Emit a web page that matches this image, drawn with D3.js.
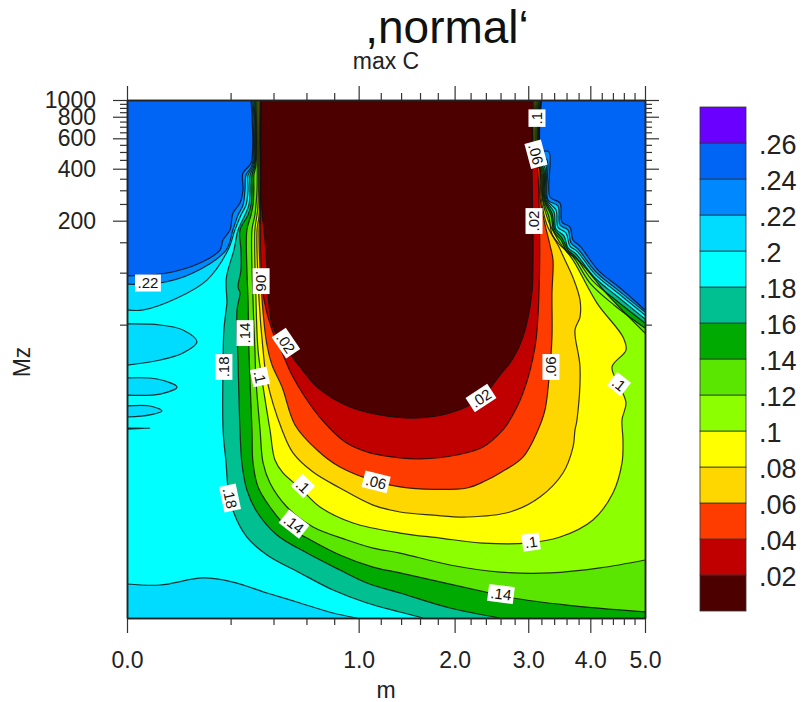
<!DOCTYPE html>
<html>
<head>
<meta charset="utf-8">
<script src="https://cdn.jsdelivr.net/npm/d3@7"></script>
<style>
  html, body { margin: 0; background: #fff; }
  svg { display: block; font-family: "Liberation Sans", Arial, sans-serif; }
</style>
</head>
<body>
<svg id="chart" width="802" height="702"></svg>
<script>
// Contour lines, every point is [m, log10(Mz)]
const c24Left = [[.2865,3],[.2865,2.635],[.2507,2.577],[.2507,2.479],[.2379,2.403],[.2094,2.345],[.1977,2.247],[.1717,2.189],[.1612,2.131],[.0993,2.056],[.0298,1.998],[0,1.981]];
const c24Right = [[5,1.784],[4.529,1.911],[4.134,2.015],[3.824,2.154],[3.707,2.189],[3.657,2.264],[3.526,2.293],[3.494,2.403],[3.334,2.438],[3.318,2.699],[3.2015,2.71],[3.2015,3]];
const c22Left = [[.291,3],[.291,2.623],[.264,2.565],[.2595,2.479],[.251,2.392],[.23,2.334],[.209,2.247],[.183,2.131],[.081,1.998],[.02,1.94],[0,1.934]];
const c22Right = [[5,1.772],[4.492,1.899],[4.099,2.004],[3.79,2.137],[3.673,2.172],[3.624,2.247],[3.494,2.276],[3.461,2.386],[3.303,2.421],[3.287,2.652],[3.194,2.681],[3.194,3]];
const c20Left = [[.296,3],[.296,2.623],[.273,2.565],[.273,2.479],[.264,2.392],[.242,2.334],[.217,2.247],[.19,2.131],[.119,1.957],[.047,1.853],[.005,1.784],[0,1.784]];
const c20Right = [[5,1.755],[4.492,1.882],[4.081,1.992],[3.773,2.125],[3.657,2.154],[3.591,2.23],[3.461,2.264],[3.429,2.363],[3.287,2.421],[3.271,2.623],[3.186,2.664],[3.186,3]];
const c18Left = [[.3005,3],[.3005,2.623],[.282,2.565],[.282,2.479],[.277,2.392],[.2595,2.334],[.23,2.247],[.213,2.131],[.19,2.015],[.183,1.957],[.186,1.824],[.183,1.784],[.175,1.668],[.172,1.477],[.172,1.089],[.183,.898],[.19,.759],[.213,.608],[.268,.469],[.365,.365],[.558,.261],[.791,.162],[1.073,.087],[1.389,.035],[1.633,0]];
const c18Right = [[5,1.732],[4.492,1.859],[4.064,1.975],[3.757,2.108],[3.624,2.143],[3.559,2.212],[3.429,2.253],[3.398,2.351],[3.271,2.421],[3.256,2.606],[3.178,2.652],[3.178,3]];
const c16Left = [[.305,3],[.305,2.623],[.291,2.565],[.291,2.479],[.2865,2.392],[.273,2.334],[.238,2.247],[.242,2.131],[.242,2.015],[.23,1.917],[.238,1.882],[.2255,1.784],[.23,1.477],[.238,1.089],[.246,.898],[.268,.741],[.315,.614],[.419,.481],[.604,.376],[.845,.278],[1.073,.203],[1.389,.145],[1.944,.058],[2.5925,0]];
const c16Right = [[5,1.708],[4.474,1.836],[4.029,1.957],[3.74,2.096],[3.624,2.131],[3.526,2.201],[3.413,2.247],[3.366,2.345],[3.256,2.421],[3.24,2.594],[3.163,2.652],[3.163,3]];
const c14Left = [[.31,3],[.31,2.623],[.3,2.565],[.3,2.479],[.296,2.392],[.2865,2.334],[.268,2.247],[.268,2.015],[.273,1.842],[.277,1.552],[.282,1.378],[.291,1.089],[.296,.898],[.32,.759],[.381,.643],[.477,.527],[.604,.463],[.845,.365],[1.128,.295],[1.389,.261],[2.455,.145],[2.776,.116],[3.6075,.075],[5,.035]];
const c14Right = [[5,1.679],[4.419,1.813],[3.9945,1.94],[3.723,2.085],[3.6075,2.12],[3.51,2.189],[3.398,2.235],[3.35,2.334],[3.24,2.421],[3.225,2.583],[3.148,2.652],[3.148,3]];
const c12Left = [[.315,3],[.315,2.479],[.31,2.392],[.305,2.334],[.291,2.247],[.296,1.842],[.305,1.552],[.31,1.378],[.33,1.089],[.345,.898],[.381,.782],[.477,.643],[.645,.527],[.902,.452],[1.128,.405],[1.389,.376],[1.944,.307],[2.5925,.266],[3.334,.261],[4.169,.29],[5,.336]];
const c12Right = [[5,1.65],[4.293,1.876],[3.824,2.062],[3.494,2.16],[3.366,2.224],[3.318,2.322],[3.225,2.421],[3.209,2.583],[3.132,2.652],[3.132,3]];
const c10 = [[.32,3],[.32,2.392],[.315,2.334],[.305,2.247],[.31,1.842],[.32,1.552],[.34,1.378],[.381,1.089],[.408,.915],[.4535,.84],[.558,.753],[.694,.643],[.952,.55],[1.389,.492],[1.8255,.463],[2.362,.434],[2.981,.434],[3.494,.469],[4.046,.568],[4.401,.724],[4.566,.898],[4.584,1.031],[4.566,1.147],[4.64,1.245],[4.529,1.338],[4.383,1.454],[4.64,1.552],[4.584,1.627],[4.116,1.824],[3.707,2.073],[3.494,2.172],[3.303,2.305],[3.209,2.438],[3.194,2.583],[3.117,2.652],[3.117,3]];
const c08 = [[.325,3],[.325,2.334],[.315,2.247],[.325,1.842],[.345,1.552],[.365,1.378],[.448,1.089],[.5135,.956],[.645,.845],[.845,.753],[1.128,.654],[1.389,.614],[1.745,.596],[2.154,.585],[2.733,.614],[3.178,.701],[3.542,.84],[3.707,.99],[3.74,1.089],[3.773,1.147],[3.824,1.454],[3.74,1.668],[3.824,1.743],[3.824,1.842],[3.723,1.957],[3.575,2.073],[3.461,2.16],[3.287,2.276],[3.194,2.438],[3.178,2.594],[3.102,2.652],[3.102,3]];
const c06 = [[.33,3],[.33,2.334],[.325,2.247],[.34,1.842],[.365,1.581],[.392,1.465],[.448,1.338],[.526,1.118],[.673,.973],[.845,.874],[1.165,.788],[1.389,.759],[1.745,.745],[2.154,.753],[2.388,.793],[2.5925,.84],[2.922,.932],[3.148,1.089],[3.256,1.205],[3.334,1.454],[3.366,1.627],[3.366,1.882],[3.382,2.073],[3.334,2.16],[3.24,2.305],[3.178,2.438],[3.163,2.623],[3.087,2.652],[3.087,3]];
const c04 = [[.332,3],[.332,2.345],[.335,2.033],[.35,1.842],[.392,1.668],[.442,1.552],[.507,1.407],[.59,1.28],[.7085,1.147],[.886,1.019],[1.1,.956],[1.389,.927],[1.6,.921],[2.029,.944],[2.362,.99],[2.634,1.089],[2.733,1.147],[2.922,1.303],[3.102,1.569],[3.163,1.882],[3.163,2.421],[3.132,2.623],[3.072,2.71],[3.072,3]];
const c02 = [[.335,3],[.335,2.623],[.34,2.345],[.35,2.247],[.365,2.033],[.3705,1.882],[.397,1.685],[.477,1.552],[.558,1.454],[.673,1.338],[.927,1.222],[1.193,1.176],[1.546,1.158],[1.944,1.187],[2.335,1.274],[2.5925,1.407],[2.762,1.494],[2.922,1.627],[3.056,1.882],[3.072,2.073],[3.072,2.247],[3.056,2.623],[3.056,3]];

// Closed pockets of the .2 to .22 band on the left and along the bottom
const pocket1 = [[0,1.703],[.0203,1.697],[.0584,1.668],[.0913,1.598],[.0584,1.535],[.0203,1.494],[0,1.465]];
const pocket2 = [[0,1.39],[.0168,1.384],[.0466,1.338],[.0203,1.297],[0,1.291]];
const pocket3 = [[0,1.228],[.0099,1.228],[.0228,1.199],[.0099,1.176],[0,1.164]];
const pocket4 = [[0,1.10],[.0099,1.10],[0,1.094]];
const bottomPocket = [[0,.197],[.0203,.191],[.1076,.232],[.2094,.208],[.3652,.145],[.5577,.087],[.7907,.029],[.9857,0]];

// Colour bands, low to high
const bandColors = ["#4d0000","#c00000","#ff3c00","#ffd700","#ffff00","#8cff00","#5ae600","#00aa00","#00bf90","#00ffff","#00dcff","#0088ff","#0064f5","#6a00ff"];
const barTicks = [.02,.04,.06,.08,.1,.12,.14,.16,.18,.2,.22,.24,.26];

// Tick values
const xMajor = [0,1,2,3,4,5];
const xMinor = [.2,.4,.6,.8,1.2,1.4,1.6,1.8,2.2,2.4,2.6,2.8,3.2,3.4,3.6,3.8,4.2,4.4,4.6,4.8];
const yMajor = [200,400,600,800,1000];
const yMinor = [50,100,150,250,300,350,450,500,550,650,700,750,850,900,950];

// Inline contour labels: text, m, log10(Mz), rotation
const lineLabels = [
  [".22",.0082,1.94,0],[".06",.335,1.951,90],[".14",.2595,1.65,-90],[".18",.175,1.454,-90],
  [".1",.3296,1.396,78],[".02",.4707,1.592,56],[".18",.1977,.695,78],[".1",.577,.764,44],
  [".14",.52,.544,38],[".06",1.156,.788,14],[".02",2.335,1.274,-33],[".1",3.041,.44,-8],
  [".14",2.606,.139,7],[".06",3.349,1.454,-90],[".1",4.51,1.355,38],[".02",3.087,2.299,-90],
  [".06",3.117,2.686,75],[".1",3.132,2.895,-90]
];

const x = d3.scaleSqrt().domain([0, 5]).range([127, 645]);
const y = d3.scaleLog().domain([1, 1000]).range([618, 100]);

const svg = d3.select("#chart");

// Data points are stored as log10(Mz), the scale wants Mz
const line = d3.line()
  .x(d => x(d[0]))
  .y(d => y(Math.pow(10, d[1])))
  .curve(d3.curveCatmullRom.alpha(.5));

const cornerTo = d => `L${x(d[0])},${y(Math.pow(10, d[1]))}`;

// Painted from the highest level down, each one covers what is below its line
const layers = [
  { fill: bandColors[11], parts: [c24Left, c24Right], corners: [[0,0],[5,0]] },
  { fill: bandColors[10], parts: [c22Left, c22Right], corners: [[0,0],[5,0]] },
  { fill: bandColors[9], parts: [c20Left, c20Right], corners: [[0,0],[5,0]] },
  { fill: bandColors[8], parts: [c18Left, c18Right], corners: [[5,0]] },
  { fill: bandColors[7], parts: [c16Left, c16Right], corners: [[5,0]] },
  { fill: bandColors[6], parts: [c14Left, c14Right], corners: [] },
  { fill: bandColors[5], parts: [c12Left, c12Right], corners: [] },
  { fill: bandColors[4], parts: [c10], corners: [] },
  { fill: bandColors[3], parts: [c08], corners: [] },
  { fill: bandColors[2], parts: [c06], corners: [] },
  { fill: bandColors[1], parts: [c04], corners: [] },
  { fill: bandColors[0], parts: [c02], corners: [] }
];

const pockets = [pocket1, pocket2, pocket3, pocket4];

svg.append("defs").append("clipPath").attr("id", "plot-clip").append("rect")
  .attr("x", x(0)).attr("y", y(1000))
  .attr("width", x(5) - x(0)).attr("height", y(1) - y(1000));

const plot = svg.append("g").attr("clip-path", "url(#plot-clip)");

plot.append("rect")
  .attr("x", x(0)).attr("y", y(1000))
  .attr("width", x(5) - x(0)).attr("height", y(1) - y(1000))
  .attr("fill", bandColors[12]);

function layerPath(l) {
  let d = line(l.parts[0]) + l.corners.map(cornerTo).join("");
  if (l.parts[1]) d += "L" + line(l.parts[1]).slice(1);
  return d + "Z";
}

layers.forEach(l => {
  plot.append("path").attr("d", layerPath(l)).attr("fill", l.fill);
  // the .2 band pockets sit on the cyan layer, under .18
  if (l.fill === bandColors[9]) {
    pockets.forEach(p => {
      plot.append("path").attr("d", line(p) + "Z").attr("fill", bandColors[10]);
    });
    plot.append("path")
      .attr("d", line(bottomPocket) + cornerTo([0, 0]) + "Z")
      .attr("fill", bandColors[10]);
  }
});

// contour lines on top of all the fills
const strokes = layers.flatMap(l => l.parts).concat(pockets, [bottomPocket]);
plot.selectAll("path.contour")
  .data(strokes)
  .enter()
  .append("path")
  .attr("class", "contour")
  .attr("d", d => line(d))
  .attr("fill", "none")
  .attr("stroke", "#111")
  .attr("stroke-opacity", .85)
  .attr("stroke-width", 1.2);

// Inline labels, white box sized from the text
const labelGroups = svg.selectAll("g.line-label")
  .data(lineLabels)
  .enter()
  .append("g")
  .attr("class", "line-label")
  .attr("transform", d => `translate(${x(d[1])},${y(Math.pow(10, d[2]))}) rotate(${d[3]})`);

labelGroups.append("rect").attr("fill", "#fff");
labelGroups.append("text")
  .attr("text-anchor", "middle")
  .attr("dy", "0.36em")
  .attr("font-size", 15)
  .attr("fill", "#111")
  .text(d => d[0]);
labelGroups.each(function() {
  const g = d3.select(this);
  const w = g.select("text").node().getComputedTextLength() + 5;
  g.select("rect").attr("x", -w / 2).attr("y", -8.5).attr("width", w).attr("height", 17);
});

// Frame and ticks
function styleAxis(g) {
  g.selectAll("path.domain").attr("stroke", "#222").attr("stroke-width", 1.5);
  g.selectAll(".tick line").attr("stroke", "#333").attr("stroke-width", 1.2);
}

const fmtX = d3.format(".1f");

svg.append("g")
  .attr("transform", `translate(0,${y(1)})`)
  .call(d3.axisBottom(x).tickValues(xMajor).tickSize(15).tickSizeOuter(0).tickPadding(19).tickFormat(fmtX))
  .call(styleAxis)
  .call(g => g.selectAll("text").attr("font-size", 23).attr("font-family", "inherit").attr("fill", "#222"));
svg.append("g")
  .attr("transform", `translate(0,${y(1)})`)
  .call(d3.axisBottom(x).tickValues(xMinor).tickSize(7).tickSizeOuter(0).tickFormat(""))
  .call(styleAxis);
svg.append("g")
  .attr("transform", `translate(0,${y(1000)})`)
  .call(d3.axisTop(x).tickValues(xMajor).tickSize(14).tickSizeOuter(0).tickFormat(""))
  .call(styleAxis);
svg.append("g")
  .attr("transform", `translate(0,${y(1000)})`)
  .call(d3.axisTop(x).tickValues(xMinor).tickSize(7).tickSizeOuter(0).tickFormat(""))
  .call(styleAxis);

svg.append("g")
  .attr("transform", `translate(${x(0)},0)`)
  .call(d3.axisLeft(y).tickValues(yMajor).tickSize(14).tickSizeOuter(0).tickPadding(17).tickFormat(d3.format("d")))
  .call(styleAxis)
  .call(g => g.selectAll("text").attr("font-size", 23).attr("font-family", "inherit").attr("fill", "#222"));
svg.append("g")
  .attr("transform", `translate(${x(0)},0)`)
  .call(d3.axisLeft(y).tickValues(yMinor).tickSize(7).tickSizeOuter(0).tickFormat(""))
  .call(styleAxis);
svg.append("g")
  .attr("transform", `translate(${x(5)},0)`)
  .call(d3.axisRight(y).tickValues(yMajor).tickSize(14).tickSizeOuter(0).tickFormat(""))
  .call(styleAxis);
svg.append("g")
  .attr("transform", `translate(${x(5)},0)`)
  .call(d3.axisRight(y).tickValues(yMinor).tickSize(7).tickSizeOuter(0).tickFormat(""))
  .call(styleAxis);

// Titles
svg.append("text").attr("x", 447).attr("y", 43).attr("text-anchor", "middle")
  .attr("font-size", 46).attr("fill", "#111").text(",normal\u2018");
svg.append("text").attr("x", 386).attr("y", 69).attr("text-anchor", "middle")
  .attr("font-size", 23).attr("fill", "#222").text("max C");
svg.append("text").attr("x", 386).attr("y", 698).attr("text-anchor", "middle")
  .attr("font-size", 23).attr("fill", "#222").text("m");
svg.append("text").attr("transform", "translate(30,362) rotate(-90)").attr("text-anchor", "middle")
  .attr("font-size", 23).attr("fill", "#222").text("Mz");

// Colour bar
const barY = d3.scaleLinear().domain([0, .28]).range([611, 107]);
const barStep = .02;

svg.selectAll("rect.band")
  .data(bandColors)
  .enter()
  .append("rect")
  .attr("class", "band")
  .attr("x", 700)
  .attr("width", 46)
  .attr("y", (d, i) => barY((i + 1) * barStep))
  .attr("height", (d, i) => barY(i * barStep) - barY((i + 1) * barStep))
  .attr("fill", d => d)
  .attr("stroke", "#333")
  .attr("stroke-width", .8);

svg.selectAll("text.bar-label")
  .data(barTicks)
  .enter()
  .append("text")
  .attr("class", "bar-label")
  .attr("x", 759)
  .attr("y", d => barY(d) + 1)
  .attr("dy", "0.36em")
  .attr("font-size", 27)
  .attr("fill", "#222")
  .text(d => String(d).replace(/^0/, ""));
</script>
</body>
</html>
